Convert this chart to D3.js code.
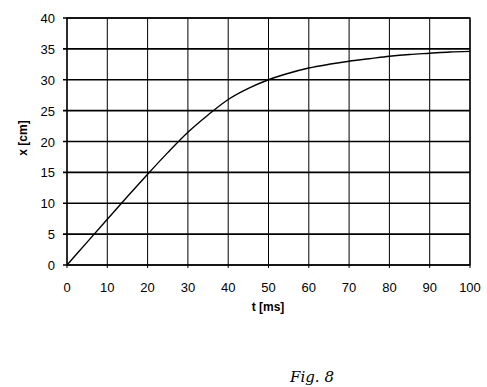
<!doctype html>
<html>
<head>
  <style>
    body { margin:0; background:#fff; }
    text { font-family: "Liberation Sans", Arial, sans-serif; }
  </style>
  <script src="https://d3js.org/d3.v7.min.js"></script>
</head>
<body>
  <script>
    // values
    var tValues = [0, 5, 10, 15, 20, 25, 30, 35, 40, 45, 50, 55, 60, 65, 70, 75, 80, 85, 90, 95, 100];
    var xValues = [0, 3.7, 7.4, 11.1, 14.7, 18.2, 21.5, 24.3, 26.8, 28.6, 30.0, 31.05, 31.9, 32.5, 33.0, 33.4, 33.8, 34.1, 34.3, 34.5, 34.6];
    var tTicks = [0, 10, 20, 30, 40, 50, 60, 70, 80, 90, 100];
    var xTicks = [0, 5, 10, 15, 20, 25, 30, 35, 40];

    function draw() {
      var data = tValues.map(function(t, i) { return {t: t, x: xValues[i]}; });

      var svg = d3.select("body").append("svg")
        .attr("width", 487)
        .attr("height", 387);

      var pLeft = 67, pRight = 470, pTop = 18, pBottom = 265;

      var xs = d3.scaleLinear().domain([0, 100]).range([pLeft, pRight]);
      var ys = d3.scaleLinear().domain([0, 40]).range([pBottom, pTop]);

      // vertical grid (thin)
      svg.append("g").selectAll("line")
        .data(tTicks)
        .enter().append("line")
          .attr("x1", function(d) { return xs(d); })
          .attr("x2", function(d) { return xs(d); })
          .attr("y1", pTop).attr("y2", pBottom + 3)
          .attr("stroke", "#000").attr("stroke-width", 1);

      // horizontal grid (heavier)
      svg.append("g").selectAll("line")
        .data(xTicks)
        .enter().append("line")
          .attr("x1", pLeft - 4).attr("x2", pRight)
          .attr("y1", function(d) { return ys(d); })
          .attr("y2", function(d) { return ys(d); })
          .attr("stroke", "#000").attr("stroke-width", 1.6);

      svg.append("rect")
        .attr("x", pLeft).attr("y", pTop)
        .attr("width", pRight - pLeft).attr("height", pBottom - pTop)
        .attr("fill", "none").attr("stroke", "#000").attr("stroke-width", 1.3);

      // tick labels
      svg.append("g").selectAll("text")
        .data(xTicks)
        .enter().append("text")
          .attr("x", 55)
          .attr("y", function(d) { return ys(d) + 5; })
          .attr("text-anchor", "end")
          .style("font-size", "13px")
          .text(function(d) { return d; });

      svg.append("g").selectAll("text")
        .data(tTicks)
        .enter().append("text")
          .attr("x", function(d) { return xs(d); })
          .attr("y", 292)
          .attr("text-anchor", "middle")
          .style("font-size", "13px")
          .text(function(d) { return d; });

      // axis titles
      svg.append("text")
        .attr("x", 268).attr("y", 311)
        .attr("text-anchor", "middle")
        .style("font-size", "12px")
        .style("font-weight", "bold")
        .text("t [ms]");

      svg.append("text")
        .attr("transform", "translate(27,138) rotate(-90)")
        .attr("text-anchor", "middle")
        .style("font-size", "12px")
        .style("font-weight", "bold")
        .text("x [cm]");

      // the curve
      var line = d3.line()
        .x(function(d) { return xs(d.t); })
        .y(function(d) { return ys(d.x); })
        .curve(d3.curveMonotoneX);

      svg.append("path")
        .datum(data)
        .attr("d", line)
        .attr("fill", "none")
        .attr("stroke", "#000")
        .attr("stroke-width", 1.4);

      svg.append("text")
        .attr("x", 312).attr("y", 382)
        .attr("text-anchor", "middle")
        .style("font-family", "'DejaVu Serif', serif")
        .style("font-style", "italic")
        .style("font-size", "15px")
        .text("Fig. 8");
    }

    draw();
  </script>
</body>
</html>
